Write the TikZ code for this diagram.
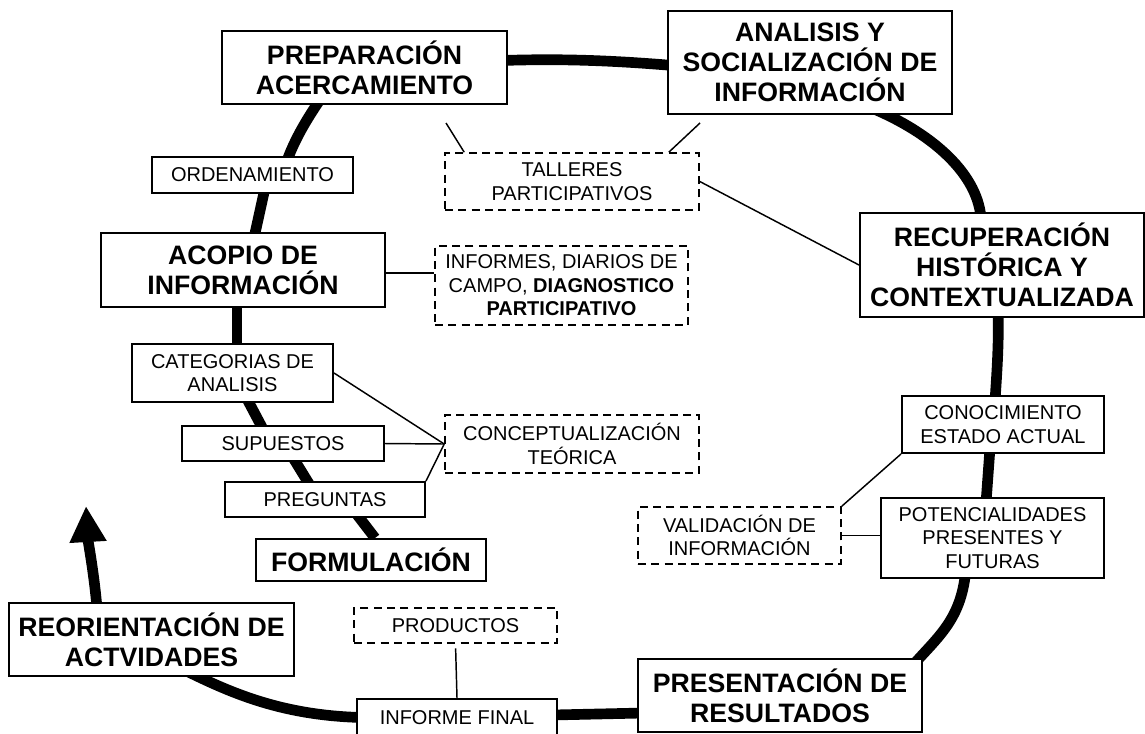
\documentclass[tikz,border=0pt]{standalone}
\usepackage{fontspec}
\setmainfont{Liberation Sans}
\usetikzlibrary{arrows.meta, calc}
\newcommand{\stagefont}{\fontsize{20}{22.5}\selectfont\bfseries}
\newcommand{\itemfont}{\fontsize{15}{17.6}\selectfont}
\pgfdeclarelayer{background}
\pgfsetlayers{background,main}

\begin{document}
\begin{tikzpicture}[x=0.75pt, y=-0.75pt,
  boxsize/.style 2 args={minimum width=#1*0.75pt, minimum height=#2*0.75pt},
  stage/.style={draw, line width=1.5pt, fill=white, align=center, inner sep=0pt, font=\stagefont},
  item/.style={draw, line width=1.5pt, fill=white, align=center, inner sep=0pt, font=\itemfont},
  source/.style={item, line width=1.2pt, dash pattern=on 6pt off 4pt},
  cycle/.style={line width=8pt},
  link/.style={line width=1.1pt}]
  \useasboundingbox (0,0) rectangle (1145,733);

  % Outer cycle
  \node[stage, boxsize={285}{73}] (prep) at (364.5,67.5) {PREPARACIÓN\\ACERCAMIENTO};
  \node[stage, boxsize={284}{103}] (analisis) at (810,62.5) {ANALISIS Y\\SOCIALIZACIÓN DE\\INFORMACIÓN};
  \node[stage, boxsize={284}{104}] (recup) at (1002,265) {RECUPERACIÓN\\HISTÓRICA Y\\CONTEXTUALIZADA};
  \node[item, boxsize={202}{57}] (conoc) at (1003,424.5) {CONOCIMIENTO\\ESTADO ACTUAL};
  \node[item, boxsize={223}{80}] (potenc) at (992.5,538) {POTENCIALIDADES\\PRESENTES Y\\FUTURAS};
  \node[stage, boxsize={284}{73}] (present) at (780,695.5) {PRESENTACIÓN DE\\RESULTADOS};
  \node[item, boxsize={200}{37}] (informe) at (457,717.5) {INFORME FINAL};
  \node[stage, boxsize={285}{73}] (reorient) at (151.5,639.5) {REORIENTACIÓN DE\\ACTVIDADES};
  \coordinate (restart) at (86,506);

  % Inner chain
  \node[item, boxsize={201}{36}] (orden) at (252.5,175) {ORDENAMIENTO};
  \node[stage, boxsize={284}{74}] (acopio) at (243,270) {ACOPIO DE\\INFORMACIÓN};
  \node[item, boxsize={201}{58}] (categ) at (232.5,373) {CATEGORIAS DE\\ANALISIS};
  \node[item, boxsize={202}{35}] (supuestos) at (283,443.5) {SUPUESTOS};
  \node[item, boxsize={200}{35}] (preguntas) at (325,499.5) {PREGUNTAS};
  \node[stage, boxsize={230}{42}] (formul) at (371,560) {FORMULACIÓN};

  % Sources (dashed)
  \node[source, boxsize={254}{57}] (talleres) at (572,181.5) {TALLERES\\PARTICIPATIVOS};
  \node[source, boxsize={253}{79}] (informes) at (561.5,285.5) {INFORMES, DIARIOS DE\\CAMPO, \textbf{DIAGNOSTICO}\\\textbf{PARTICIPATIVO}};
  \node[source, boxsize={254}{58}] (concept) at (572,444) {CONCEPTUALIZACIÓN\\TEÓRICA};
  \node[source, boxsize={203}{57}] (valid) at (739.5,535.5) {VALIDACIÓN DE\\INFORMACIÓN};
  \node[source, boxsize={203}{35}] (productos) at (455.5,625.5) {PRODUCTOS};

  % Thick path behind the boxes
  \begin{pgfonlayer}{background}
    \draw[cycle] ($(prep.east)+(-6,-7)$) .. controls +(60,-2) and +(-60,-5) .. ($(analisis.west)+(6,3)$);
    \draw[cycle] ($(analisis.south)+(64,-6)$) .. controls +(52,22) and +(-4,-48) .. ($(recup.north)+(-21,6)$);
    \draw[cycle] ($(recup.south)+(-4,-6)$) .. controls +(1,30) and +(2,-30) .. ($(conoc.north)+(-8,6)$);
    \draw[cycle] ($(conoc.south)+(-13,-6)$) -- ($(potenc.north)+(-6.5,6)$);
    \draw[cycle] ($(potenc.south)+(-27,-6)$) .. controls +(-5,46) and +(25,-28) .. ($(present.north east)+(-9,6)$);
    \draw[cycle] ($(present.west)+(6,17.5)$) -- ($(informe.east)+(-6,-2.5)$);
    \draw[cycle] ($(informe.west)+(6,0)$) .. controls +(-80,-2) and +(45,22) .. ($(reorient.south)+(35,-6)$);
    \draw[cycle, -{Triangle[length=27pt, width=26pt]}] ($(reorient.north)+(-54.5,6)$) .. controls +(-3,-35) and +(2,35) .. (restart);

    \draw[cycle] ($(prep.south)+(-44,-6)$) .. controls +(-15,22) and +(8,-22) .. ($(orden.north)+(34,6)$);
    \draw[cycle] ($(orden.south)+(12.5,-6)$) -- ($(acopio.north)+(11,6)$);
    \draw[cycle] ($(acopio.south)+(-6,-6)$) -- ($(categ.north)+(4.5,6)$);
    \draw[cycle] ($(categ.south)+(13.5,-6)$) -- ($(supuestos.north)+(-19,6)$);
    \draw[cycle] ($(supuestos.south)+(9,-6)$) -- ($(preguntas.north)+(-14,6)$);
    \draw[cycle] ($(preguntas.south)+(30,-6)$) -- ($(formul.north)+(4,0)$);
  \end{pgfonlayer}

  % Thin links
  \coordinate (prepfoot) at ($(prep.south)+(81.5,18)$);
  \coordinate (analisisfoot) at ($(analisis.south)+(-110,8)$);
  \coordinate (acopioout) at ($(acopio.east)+(0,3)$);
  \draw[link] ($(talleres.north west)+(20,0)$) -- (prepfoot);
  \draw[link] ($(talleres.north east)+(-31,0)$) -- (analisisfoot);
  \draw[link] (talleres.east) -- (recup.west);
  \draw[link] (acopioout) -- (acopioout -| informes.west);
  \draw[link] (categ.east) -- (concept.west);
  \draw[link] (supuestos.east) -- (concept.west);
  \draw[link] (preguntas.north east) -- (concept.west);
  \draw[link, shorten <=3.5pt] (productos.south) -- (informe.north);
  \draw[link] (valid.north east) -- (conoc.south west);
  \draw[link] (valid.east) -- (valid.east -| potenc.west);
\end{tikzpicture}
\end{document}
